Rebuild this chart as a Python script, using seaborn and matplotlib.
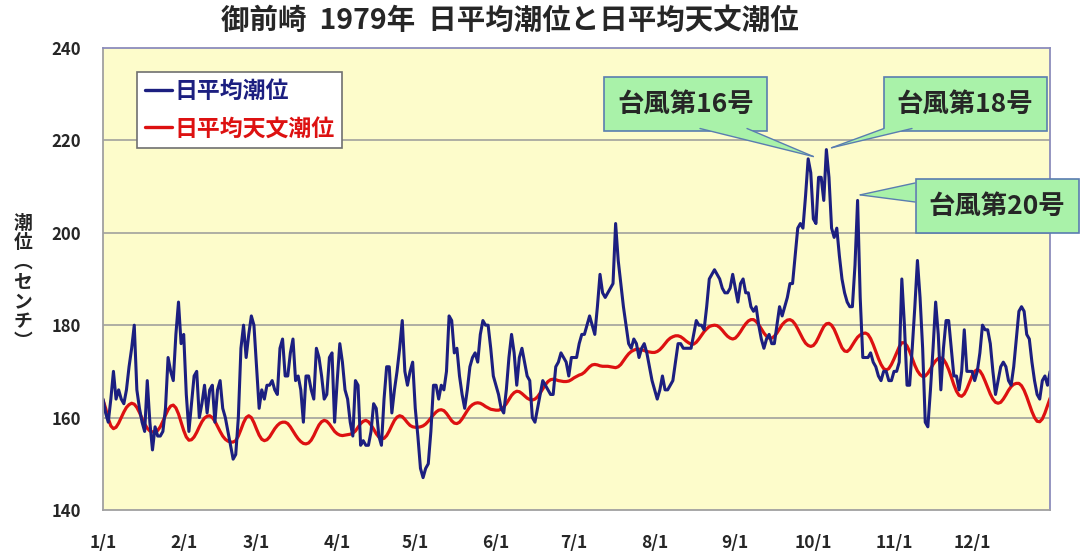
import matplotlib
matplotlib.use("Agg")
import matplotlib.pyplot as plt
import matplotlib.lines as mlines
import matplotlib.dates as mdates
from matplotlib.patches import Polygon
import seaborn as sns
import pandas as pd
import numpy as np

# daily mean sea level (cm), 1979-01-01 .. 1979-12-31
obs_jan = [164, 161, 159, 164, 170, 164, 166, 164, 163, 166, 171, 175, 180, 166, 162, 159,
           157, 168, 159, 153, 158, 156, 156, 157, 162, 173, 170, 168, 178, 185, 176]
obs_feb = [178, 165, 157, 163, 169, 170, 160, 163, 167, 161, 166, 167, 159, 166, 168, 162,
           160, 157, 154, 151, 152, 160, 175, 180, 173, 178, 182, 180]
obs_mar = [171, 162, 166, 164, 167, 167, 168, 166, 165, 175, 177, 169, 169, 174, 177, 168,
           169, 166, 159, 169, 169, 166, 164, 175, 173, 169, 164, 165, 173, 174, 159]
obs_apr = [168, 176, 172, 166, 164, 159, 156, 168, 167, 154, 155, 154, 154, 157, 163, 162,
           156, 154, 164, 171, 171, 161, 166, 170, 175, 181, 170, 167, 170, 172]
obs_may = [162, 156, 149, 147, 149, 150, 157, 167, 167, 164, 167, 166, 170, 182, 181, 174,
           175, 169, 165, 162, 166, 171, 173, 174, 172, 178, 181, 180, 180, 175, 169]
obs_jun = [167, 165, 162, 161, 166, 173, 178, 174, 167, 173, 175, 172, 169, 168, 160, 159,
           162, 165, 168, 167, 166, 165, 165, 171, 172, 174, 173, 172, 169, 173]
obs_jul = [173, 173, 176, 178, 178, 180, 182, 180, 178, 184, 191, 187, 186, 187, 188, 189,
           202, 194, 189, 184, 180, 176, 175, 177, 176, 173, 175, 176, 174, 171, 168]
obs_aug = [166, 164, 166, 169, 166, 166, 167, 168, 172, 176, 176, 175, 175, 175, 175, 178,
           181, 180, 180, 179, 184, 190, 191, 192, 191, 190, 188, 187, 187, 188, 191]
obs_sep = [188, 185, 189, 190, 187, 187, 184, 183, 184, 180, 177, 175, 177, 178, 176, 176,
           180, 184, 182, 184, 186, 189, 189, 195, 201, 202, 201, 208, 216, 213]
obs_oct = [203, 202, 212, 212, 207, 218, 212, 201, 199, 201, 195, 190, 187, 185, 184, 184,
           193, 207, 186, 173, 173, 173, 174, 172, 171, 169, 168, 170, 170, 168, 168]
obs_nov = [170, 170, 172, 190, 180, 167, 167, 175, 184, 194, 186, 175, 159, 158, 166, 175,
           185, 178, 166, 175, 181, 181, 175, 169, 169, 166, 170, 179, 170, 170]
obs_dec = [170, 168, 170, 174, 180, 179, 179, 176, 170, 165, 168, 171, 172, 171, 168, 167,
           171, 177, 183, 184, 183, 178, 177, 172, 168, 165, 164, 168, 169, 167, 170]

# daily mean astronomical tide (cm)
ast_jan = [163.8, 162.0, 159.8, 158.2, 157.6, 157.9, 158.8, 160.0, 161.2, 162.2, 162.8,
           163.1, 162.9, 162.2, 161.1, 159.8, 158.6, 157.7, 157.1, 156.9, 156.9, 157.2,
           158.0, 159.2, 160.5, 161.7, 162.5, 162.7, 162.1, 160.8, 159.0]
ast_feb = [157.2, 155.8, 155.1, 155.2, 155.8, 156.8, 158.0, 159.1, 159.9, 160.3, 160.4,
           160.0, 159.2, 158.1, 157.0, 156.0, 155.3, 154.9, 154.7, 154.7, 155.0, 156.0,
           157.4, 158.9, 160.0, 160.4, 160.0, 158.9]
ast_mar = [157.5, 156.2, 155.3, 155.0, 155.2, 155.8, 156.7, 157.6, 158.3, 158.8, 159.0,
           159.0, 158.7, 158.0, 157.1, 156.2, 155.4, 154.8, 154.4, 154.3, 154.5, 155.1,
           156.1, 157.3, 158.4, 159.1, 159.4, 159.2, 158.6, 157.8, 157.0]
ast_apr = [156.5, 156.2, 156.1, 156.2, 156.3, 156.4, 156.6, 157.1, 157.9, 158.7, 159.2,
           159.4, 159.1, 158.4, 157.5, 156.5, 155.8, 155.4, 155.5, 156.1, 157.1, 158.3,
           159.4, 160.1, 160.4, 160.2, 159.6, 158.9, 158.3, 158.0]
ast_may = [157.9, 157.9, 158.0, 158.2, 158.6, 159.2, 159.9, 160.6, 161.2, 161.6, 161.7,
           161.5, 160.9, 160.1, 159.3, 158.8, 158.7, 159.0, 159.7, 160.6, 161.5, 162.3,
           162.8, 163.1, 163.2, 163.1, 162.8, 162.4, 162.1, 161.8, 161.7]
ast_jun = [161.6, 161.6, 161.8, 162.3, 163.0, 163.9, 164.8, 165.4, 165.7, 165.6, 165.2,
           164.7, 164.2, 163.9, 163.8, 164.0, 164.5, 165.3, 166.2, 167.1, 167.8, 168.2,
           168.3, 168.2, 168.0, 167.9, 167.8, 167.8, 167.9, 168.2]
ast_jul = [168.6, 168.9, 169.2, 169.4, 169.8, 170.4, 171.0, 171.4, 171.5, 171.4, 171.2,
           171.1, 171.1, 171.1, 171.0, 170.9, 170.8, 171.0, 171.5, 172.3, 173.1, 173.8,
           174.3, 174.6, 174.8, 174.8, 174.7, 174.5, 174.3, 174.2, 174.1]
ast_aug = [174.1, 174.3, 174.7, 175.3, 176.0, 176.7, 177.2, 177.5, 177.7, 177.7, 177.5,
           177.1, 176.6, 176.2, 175.9, 175.9, 176.3, 177.0, 177.8, 178.6, 179.2, 179.7,
           179.9, 180.0, 179.9, 179.5, 178.9, 178.2, 177.6, 177.2, 177.0]
ast_sep = [177.2, 177.8, 178.6, 179.5, 180.3, 180.9, 181.2, 181.2, 180.8, 180.1, 179.2,
           178.3, 177.6, 177.2, 177.2, 177.6, 178.3, 179.2, 180.1, 180.7, 181.1, 181.2,
           180.9, 180.2, 179.2, 178.1, 177.0, 176.1, 175.6, 175.4]
ast_oct = [175.6, 176.3, 177.4, 178.6, 179.7, 180.3, 180.4, 180.0, 179.1, 177.8, 176.4,
           175.1, 174.4, 174.3, 174.8, 175.7, 176.6, 177.4, 177.9, 178.2, 178.3, 178.0,
           177.1, 175.8, 174.3, 172.8, 171.5, 170.6, 170.3, 170.6, 171.5]
ast_nov = [172.7, 174.0, 175.3, 176.2, 176.2, 175.5, 174.3, 172.8, 171.3, 170.1, 169.3,
           168.9, 169.0, 169.6, 170.5, 171.5, 172.3, 172.8, 172.9, 172.6, 171.7, 170.4,
           168.8, 167.1, 165.7, 164.8, 164.6, 165.1, 166.2, 167.6]
ast_dec = [169.0, 170.0, 170.4, 170.1, 169.2, 167.9, 166.5, 165.1, 164.0, 163.3, 163.1,
           163.3, 164.0, 164.9, 165.9, 166.7, 167.2, 167.4, 167.4, 166.9, 165.9, 164.5,
           162.9, 161.3, 160.0, 159.2, 159.1, 159.7, 161.0, 162.6, 164.2]

month_labels = ["1/1", "2/1", "3/1", "4/1", "5/1", "6/1",
                "7/1", "8/1", "9/1", "10/1", "11/1", "12/1"]
y_ticks = [140, 160, 180, 200, 220, 240]

observed = (obs_jan + obs_feb + obs_mar + obs_apr + obs_may + obs_jun +
            obs_jul + obs_aug + obs_sep + obs_oct + obs_nov + obs_dec)
astro = (ast_jan + ast_feb + ast_mar + ast_apr + ast_may + ast_jun +
         ast_jul + ast_aug + ast_sep + ast_oct + ast_nov + ast_dec)

dates = pd.date_range("1979-01-01", periods=len(observed), freq="D")
df = pd.DataFrame({"date": dates, "obs": observed, "astro": astro})

sns.set_style("white")
plt.rcParams["font.family"] = ["Noto Sans CJK JP", "DejaVu Sans"]

navy = "#1c1f80"
red = "#dd1111"
W, H = 1088, 559

fig = plt.figure(figsize=(W / 100, H / 100), dpi=100)
ax = fig.add_axes([0.0947, 0.0877, 0.8705, 0.8265])
ax.set_facecolor("#fdfccb")

sns.lineplot(data=df, x="date", y="astro", color=red, lw=2.3, ax=ax)
sns.lineplot(data=df, x="date", y="obs", color=navy, lw=2.2, ax=ax)

ax.set_xlim(dates[0], dates[-1])
ax.set_ylim(140, 240)
ax.set_yticks(y_ticks)
ax.set_yticklabels([str(v) for v in y_ticks], fontsize=12, fontweight="bold")
month_starts = pd.date_range("1979-01-01", periods=12, freq="MS")
ax.set_xticks(month_starts)
ax.set_xticklabels(month_labels, fontsize=12.5, fontweight="bold")
ax.tick_params(axis="x", length=0, pad=17)
ax.tick_params(axis="y", length=0, pad=16)
ax.set_xlabel("")
ax.set_ylabel("")

for v in [160, 180, 200, 220]:
    ax.axhline(v, color="#a8a8a0", lw=1.3, zorder=0)

for side in ["top", "right"]:
    ax.spines[side].set_color("#8c8cbc")
    ax.spines[side].set_linewidth(1.3)
for side in ["left", "bottom"]:
    ax.spines[side].set_color("#a0a0a0")
    ax.spines[side].set_linewidth(1.3)

# vertical y label
fig.text(0.021, 0.495, "\n".join("潮位︵センチ︶"), ha="center", va="center",
         fontsize=13.5, fontweight="bold", linespacing=1.05)

fig.text(0.469, 0.962, "御前崎  1979年  日平均潮位と日平均天文潮位",
         ha="center", va="center", fontsize=20.5, fontweight="bold")

handles = [mlines.Line2D([], [], color=navy, lw=2.4),
           mlines.Line2D([], [], color=red, lw=2.4)]
leg = ax.legend(handles, ["日平均潮位", "日平均天文潮位"], loc="upper left",
                bbox_to_anchor=(0.0359, 0.948), fancybox=False, framealpha=1,
                edgecolor="#707070", handlelength=1.2, handletextpad=0.1,
                borderpad=0.33, labelspacing=0.65, borderaxespad=0,
                prop={"size": 16.5, "weight": "bold"})
leg.get_frame().set_linewidth(1.2)
for txt, c in zip(leg.get_texts(), [navy, red]):
    txt.set_color(c)

# typhoon callouts: box, then a wedge from the box edge to the peak
green = "#a9f2a9"
edge = "#5a7db0"
to_fig = fig.transFigure.inverted()


def px(x, y):
    return (x / W, 1 - y / H)


callouts = [
    ("台風第16号", 273, 216.5, 0.6305, 0.814, [(700, 128.5), (747, 128.5)]),
    ("台風第18号", 280, 218.4, 0.887, 0.814, [(884, 128.5), (912, 128.5)]),
    ("台風第20号", 291, 208.2, 0.9164, 0.6315, [(915, 183), (915, 202)]),
]
for label, day, val, tx, ty, base in callouts:
    fig.text(tx, ty, label, ha="center", va="center", fontsize=19,
             fontweight="bold", zorder=6,
             bbox=dict(boxstyle="square,pad=0.5", fc=green, ec=edge, lw=1.2))
    tip = to_fig.transform(ax.transData.transform((mdates.date2num(dates[day]), val)))
    b0, b1 = px(*base[0]), px(*base[1])
    fig.add_artist(Polygon([b0, tuple(tip), b1], closed=True, fc=green, ec="none",
                           transform=fig.transFigure, zorder=7))
    for b in (b0, b1):
        fig.add_artist(mlines.Line2D([b[0], tip[0]], [b[1], tip[1]], color=edge,
                                     lw=1.0, transform=fig.transFigure, zorder=8))

fig.savefig("out.png", dpi=100, facecolor="white")
